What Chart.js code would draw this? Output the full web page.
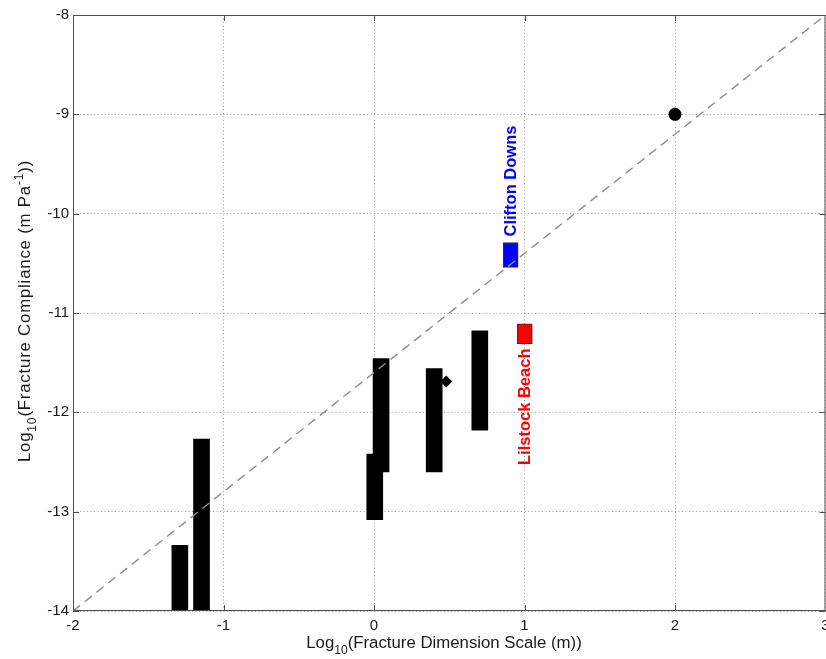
<!DOCTYPE html>
<html>
<head>
<meta charset="utf-8">
<script src="https://cdn.jsdelivr.net/npm/chart.js@4.4.0/dist/chart.umd.min.js"></script>
<style>
  html, body { margin: 0; padding: 0; background: #fff; overflow: hidden; }
</style>
</head>
<body>
<canvas id="c" width="832" height="659"></canvas>
<script>
// axis ticks
const xTicks = [-2, -1, 0, 1, 2, 3];
const yTicks = [-14, -13, -12, -11, -10, -9, -8];

// black bars: log10 dimension (centre) and log10 compliance range
const barX    = [-1.29, -1.146, 0.005, 0.047, 0.40, 0.703];
const barLow  = [-14.0, -14.0, -13.08, -12.60, -12.60, -12.18];
const barHigh = [-13.34, -12.27, -12.42, -11.46, -11.56, -11.18];

// field sites
const siteNames  = ["Clifton Downs", "Lilstock Beach"];
const siteColors = ["#0000ff", "#ff0000"];
const siteX      = [0.908, 1.002];
const siteLow    = [-10.54, -11.31];
const siteHigh   = [-10.29, -11.11];
const labelX     = [0.91, 1.005];
const labelY     = [-10.23, -12.53];

const diamondPt = [0.48, -11.69];
const dotPt     = [2, -9];
const fitX = [-2, 3];
const fitY = [-14, -8];

const FONT = "'Liberation Sans', Arial, Helvetica, sans-serif";

// draw text made of normal / sub / super pieces
function richWidth(ctx, parts, size) {
  let w = 0;
  parts.forEach(p => {
    ctx.font = (p.sub || p.sup ? size * 0.72 : size) + "px " + FONT;
    w += ctx.measureText(p.t).width;
  });
  return w;
}
function drawRich(ctx, parts, size, x, y) {
  parts.forEach(p => {
    const s = p.sub || p.sup ? size * 0.72 : size;
    ctx.font = s + "px " + FONT;
    const dy = p.sub ? size * 0.33 : (p.sup ? -size * 0.42 : 0);
    ctx.fillText(p.t, x, y + dy);
    x += ctx.measureText(p.t).width;
  });
}

const extras = {
  id: "extras",
  afterDraw(chart) {
    const ctx = chart.ctx, a = chart.chartArea;
    const sx = chart.scales.x, sy = chart.scales.y;
    ctx.save();
    // box
    ctx.strokeStyle = "#4d4d4d";
    ctx.lineWidth = 1;
    ctx.strokeRect(a.left + 0.5, a.top + 0.5, a.right - a.left - 1, a.bottom - a.top - 1);
    // inward ticks on every side
    ctx.beginPath();
    xTicks.forEach(v => {
      const px = Math.round(sx.getPixelForValue(v)) + 0.5;
      ctx.moveTo(px, a.bottom); ctx.lineTo(px, a.bottom - 6);
      ctx.moveTo(px, a.top); ctx.lineTo(px, a.top + 6);
    });
    yTicks.forEach(v => {
      const py = Math.round(sy.getPixelForValue(v)) + 0.5;
      ctx.moveTo(a.left, py); ctx.lineTo(a.left + 6, py);
      ctx.moveTo(a.right, py); ctx.lineTo(a.right - 6, py);
    });
    ctx.stroke();

    // site labels, rotated
    ctx.font = "bold 16.5px " + FONT;
    ctx.textBaseline = "middle";
    ctx.textAlign = "left";
    siteNames.forEach((n, i) => {
      ctx.save();
      ctx.translate(sx.getPixelForValue(labelX[i]), sy.getPixelForValue(labelY[i]));
      ctx.rotate(-Math.PI / 2);
      ctx.fillStyle = siteColors[i];
      ctx.fillText(n, 0, 0);
      ctx.restore();
    });

    // axis titles
    ctx.fillStyle = "#1a1a1a";
    ctx.textBaseline = "alphabetic";
    const xt = [{t: "Log"}, {t: "10", sub: true}, {t: "(Fracture Dimension Scale (m))"}];
    let w = richWidth(ctx, xt, 16.8);
    drawRich(ctx, xt, 16.8, 444 - w / 2, 648);
    const yt = [{t: "Log"}, {t: "10", sub: true}, {t: "(Fracture Compliance (m Pa"}, {t: "-1", sup: true}, {t: "))"}];
    ctx.letterSpacing = "0.8px";
    w = richWidth(ctx, yt, 16.8);
    ctx.save();
    ctx.translate(30, 311);
    ctx.rotate(-Math.PI / 2);
    drawRich(ctx, yt, 16.8, -w / 2, 0);
    ctx.restore();
    ctx.letterSpacing = "0px";
    ctx.restore();
  }
};

const noPad = s => { s.paddingLeft = 0; s.paddingRight = 0; s.paddingTop = 0; s.paddingBottom = 0; };

new Chart(document.getElementById("c"), {
  type: "bar",
  data: {
    datasets: [
      {
        type: "line",
        data: fitX.map((x, i) => ({ x: x, y: fitY[i] })),
        borderColor: "#8c8c8c",
        borderWidth: 1.4,
        borderDash: [9, 6],
        pointRadius: 0,
        fill: false
      },
      {
        data: barX.map((x, i) => ({ x: x, y: [barLow[i], barHigh[i]] })),
        backgroundColor: "#000",
        borderColor: "#222",
        borderWidth: 0,
        borderSkipped: false,
        barThickness: 16,
        grouped: false
      },
      {
        data: siteX.map((x, i) => ({ x: x, y: [siteLow[i], siteHigh[i]] })),
        backgroundColor: siteColors,
        borderColor: "#333",
        borderWidth: 1,
        borderSkipped: false,
        barThickness: 15,
        grouped: false
      },
      {
        type: "scatter",
        data: [{ x: diamondPt[0], y: diamondPt[1] }],
        pointStyle: "rectRot",
        pointRadius: 6,
        backgroundColor: "#000",
        borderColor: "#000",
        borderWidth: 0
      },
      {
        type: "scatter",
        data: [{ x: dotPt[0], y: dotPt[1] }],
        pointStyle: "circle",
        pointRadius: 6.5,
        backgroundColor: "#000",
        borderColor: "#000",
        borderWidth: 0
      }
    ]
  },
  options: {
    responsive: false,
    animation: false,
    devicePixelRatio: 1,
    layout: { padding: { left: 0, right: 3, top: 15, bottom: 0 } },
    plugins: { legend: { display: false }, tooltip: { enabled: false } },
    scales: {
      x: {
        type: "linear",
        min: -2, max: 3,
        offset: false,
        afterBuildTicks: s => { s.ticks = xTicks.map(v => ({ value: v })); },
        afterFit: s => { s.height = 48; noPad(s); },
        grid: { color: "#a0a0a0", lineWidth: 1, drawTicks: false, offset: false },
        border: { display: false, dash: [1, 2.5] },
        ticks: { padding: 6, color: "#1a1a1a", font: { family: FONT, size: 15 }, maxRotation: 0 }
      },
      y: {
        type: "linear",
        min: -14, max: -8,
        afterBuildTicks: s => { s.ticks = yTicks.map(v => ({ value: v })); },
        afterFit: s => { s.width = 73; noPad(s); },
        grid: { color: "#a0a0a0", lineWidth: 1, drawTicks: false },
        border: { display: false, dash: [1, 2.5] },
        ticks: { padding: 4, color: "#1a1a1a", font: { family: FONT, size: 15 } }
      }
    }
  },
  plugins: [extras]
});
</script>
</body>
</html>
